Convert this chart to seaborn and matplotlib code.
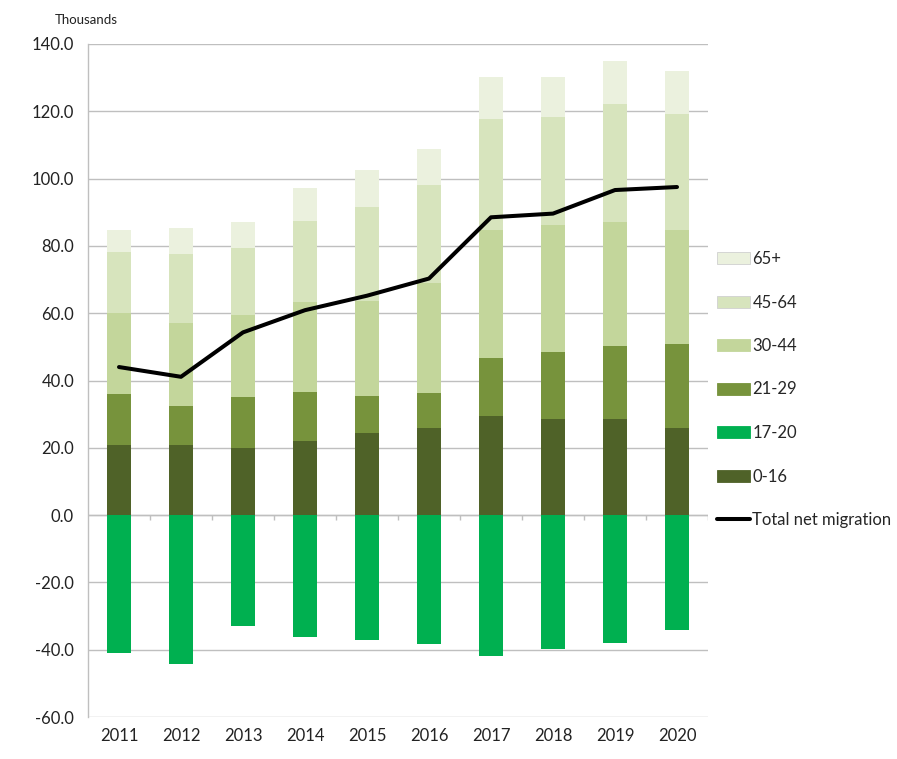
import matplotlib
matplotlib.use("Agg")
import matplotlib.pyplot as plt
import seaborn as sns
import numpy as np
import pandas as pd
from matplotlib.patches import Patch
from matplotlib.lines import Line2D

years = ["2011", "2012", "2013", "2014", "2015", "2016", "2017", "2018", "2019", "2020"]
age_0_16 = [20.8, 20.8, 19.8, 22.1, 24.3, 25.8, 29.4, 28.7, 28.7, 25.8]
age_17_20 = [-41.0, -44.3, -33.0, -36.3, -37.2, -38.3, -41.9, -39.8, -38.0, -34.2]
age_21_29 = [15.1, 11.7, 15.4, 14.4, 11.1, 10.4, 17.2, 19.9, 21.5, 24.9]
age_30_44 = [24.1, 24.5, 24.3, 26.9, 28.3, 32.9, 38.1, 37.6, 36.8, 34.0]
age_45_64 = [18.3, 20.6, 20.0, 24.1, 27.9, 29.0, 32.9, 32.2, 35.2, 34.4]
age_65_plus = [6.5, 7.8, 7.7, 9.7, 11.0, 10.6, 12.5, 11.7, 12.6, 12.8]
total_net = [44.0, 41.1, 54.3, 60.9, 65.2, 70.3, 88.5, 89.6, 96.6, 97.5]
yticks = [-60, -40, -20, 0, 20, 40, 60, 80, 100, 120, 140]

colors = {
    "0-16": "#4f6228",
    "17-20": "#00b050",
    "21-29": "#77933c",
    "30-44": "#c3d69b",
    "45-64": "#d7e4bd",
    "65+": "#ebf1de",
}

sns.set_theme(style="white")
plt.rcParams["font.family"] = ["Lato", "DejaVu Sans"]

fig = plt.figure(figsize=(8.97, 7.59), dpi=100)
ax = fig.add_axes([88 / 897, 42 / 759, 620 / 897, 673 / 759])

df = pd.DataFrame({
    "year": years,
    "0-16": age_0_16,
    "17-20": age_17_20,
    "21-29": age_21_29,
    "30-44": age_30_44,
    "45-64": age_45_64,
    "65+": age_65_plus,
})

stack = ["0-16", "21-29", "30-44", "45-64", "65+"]
bottom = np.zeros(len(years))
for key in stack:
    sns.barplot(data=df, x="year", y=key, bottom=bottom, color=colors[key],
                width=0.39, saturation=1, ax=ax, linewidth=0, zorder=2)
    bottom = bottom + df[key].to_numpy()
sns.barplot(data=df, x="year", y="17-20", color=colors["17-20"], width=0.39,
            saturation=1, ax=ax, linewidth=0, zorder=2)

line_df = pd.DataFrame({"pos": np.arange(len(years)), "total": total_net})
sns.lineplot(data=line_df, x="pos", y="total", color="black", linewidth=2.9,
             ax=ax, zorder=4)

ax.set_xlim(-0.5, len(years) - 0.5)
ax.set_ylim(-60, 140)
ax.set_yticks(yticks)
ax.set_yticklabels([f"{v:.1f}" for v in yticks])
ax.set_xticks(range(len(years)))
ax.set_xticklabels(years)
ax.set_xlabel("")
ax.set_ylabel("")
ax.yaxis.grid(True, color="#bfbfbf", linewidth=1.0, zorder=0)
ax.set_axisbelow(True)
for s in ["top", "right", "bottom"]:
    ax.spines[s].set_visible(False)
ax.spines["left"].set_color("#bfbfbf")
ax.spines["left"].set_linewidth(1.0)
ax.tick_params(axis="y", length=0, pad=10, labelsize=12, colors="#222222")
ax.tick_params(axis="x", length=0, pad=8, labelsize=12, colors="#222222")
ax.axhline(0, color="#bfbfbf", linewidth=1.0, zorder=1)
ax.vlines(np.arange(len(years)) + 0.5, -1.6, 0, color="#bfbfbf", linewidth=1.0, zorder=1)

fig.text(55 / 897, 1 - 20 / 759, "Thousands", fontsize=9.5, color="#222222", va="center")

legend_order = ["65+", "45-64", "30-44", "21-29", "17-20", "0-16"]
handles = [Patch(facecolor=colors[k], edgecolor="#d0d0d0" if k in ("65+", "45-64") else colors[k],
                 linewidth=0.6) for k in legend_order]
handles.append(Line2D([0], [0], color="black", linewidth=2.9))
labels = legend_order + ["Total net migration"]
fig.legend(handles, labels, loc="upper left", bbox_to_anchor=(717 / 897, 1 - 251 / 759),
           frameon=False, fontsize=12, handlelength=2.0, handleheight=0.72,
           handletextpad=0.12, labelspacing=1.65, borderpad=0, borderaxespad=0)

fig.savefig("out.png", dpi=100)
